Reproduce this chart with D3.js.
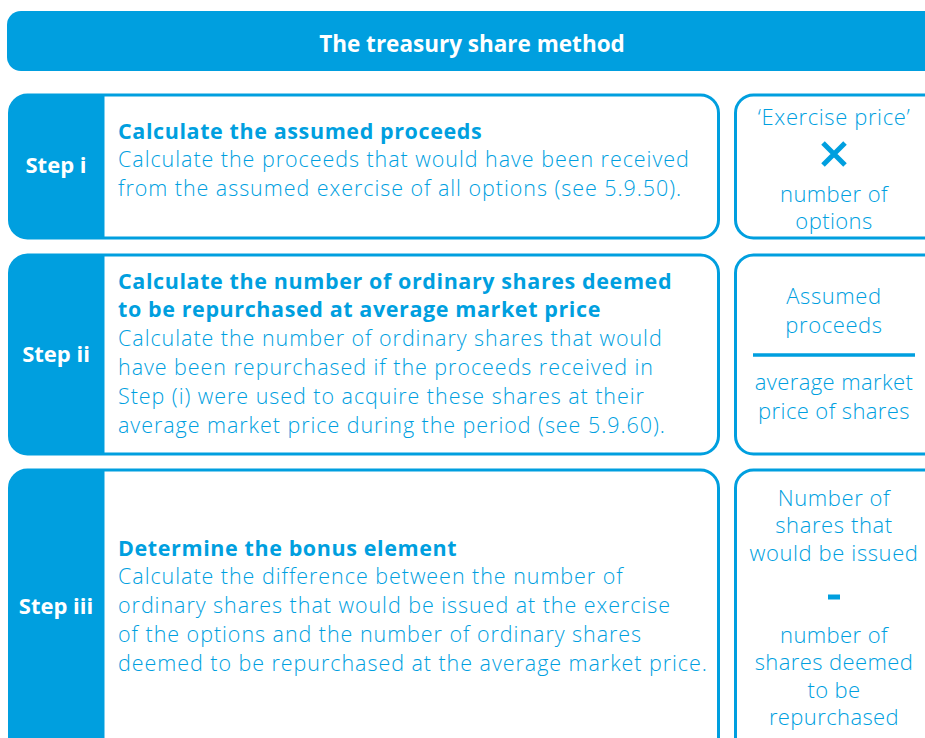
<!DOCTYPE html>
<html>
<head>
<meta charset="utf-8">
<script src="https://cdn.jsdelivr.net/npm/d3@7"></script>
<style>
  body { margin: 0; background: #fff; overflow: hidden; }
  svg { display: block; }
</style>
</head>
<body>
<div id="chart"></div>
<script>
// content
var title = "The treasury share method";
var stepLabels = ["Step i", "Step ii", "Step iii"];
var stepTitles = [
  ["Calculate the assumed proceeds"],
  ["Calculate the number of ordinary shares deemed", "to be repurchased at average market price"],
  ["Determine the bonus element"]
];
var stepBodies = [
  ["Calculate the proceeds that would have been received",
   "from the assumed exercise of all options (see 5.9.50)."],
  ["Calculate the number of ordinary shares that would",
   "have been repurchased if the proceeds received in",
   "Step (i) were used to acquire these shares at their",
   "average market price during the period (see 5.9.60)."],
  ["Calculate the difference between the number of",
   "ordinary shares that would be issued at the exercise",
   "of the options and the number of ordinary shares",
   "deemed to be repurchased at the average market price."]
];
var formulaTop = [["\u2018Exercise price\u2019"], ["Assumed", "proceeds"], ["Number of", "shares that", "would be issued"]];
var formulaOps = ["times", "divide", "minus"];
var formulaBottom = [["number of", "options"], ["average market", "price of shares"], ["number of", "shares deemed", "to be", "repurchased"]];

// layout
var W = 925, H = 738;
var blue = "#009FDF";
var rowTop = [95, 255, 470];
var rowBottom = [238, 454, 760];
var labelY = [165, 354, 606];
var textY = [131, 281, 548];
var lineH = 28.8;

var svg = d3.select("#chart").append("svg").attr("width", W).attr("height", H);

// header
svg.append("rect").attr("x", 7).attr("y", 11).attr("width", 960).attr("height", 60)
  .attr("rx", 14).attr("fill", blue);
svg.append("text").attr("x", 472).attr("y", 51.5)
  .attr("text-anchor", "middle").attr("fill", "#fff")
  .style("font-family", "'Open Sans', sans-serif")
  .style("font-weight", 700).style("font-size", "22.5px")
  .text(title);

var bodyFont = "'Open Sans', sans-serif";

var rows = svg.selectAll("g.row").data(stepLabels).enter().append("g").attr("class", "row");

rows.each(function (label, i) {
  var g = d3.select(this);
  var y0 = rowTop[i], y1 = rowBottom[i], h = y1 - y0;
  var clipId = "clip" + i;
  g.append("clipPath").attr("id", clipId).append("rect")
    .attr("x", 9.5).attr("y", y0).attr("width", 709).attr("height", h).attr("rx", 18);
  g.append("rect").attr("x", 9.5).attr("y", y0).attr("width", 709).attr("height", h)
    .attr("rx", 18).attr("fill", "#fff");
  g.append("rect").attr("x", 9.5).attr("y", y0).attr("width", 95).attr("height", h)
    .attr("fill", blue).attr("clip-path", "url(#" + clipId + ")");
  g.append("rect").attr("x", 9.5).attr("y", y0).attr("width", 709).attr("height", h)
    .attr("rx", 18).attr("fill", "none").attr("stroke", blue).attr("stroke-width", 3);

  g.append("text").attr("x", 56).attr("y", labelY[i] + 8).attr("text-anchor", "middle")
    .attr("fill", "#fff").style("font-family", bodyFont).style("font-weight", 700)
    .style("font-size", "22px").text(label);

  var lines = stepTitles[i].map(function (t) { return {t: t, b: true}; })
    .concat(stepBodies[i].map(function (t) { return {t: t, b: false}; }));
  g.selectAll("text.body").data(lines).enter().append("text").attr("class", "body")
    .attr("x", 118).attr("y", function (d, k) { return textY[i] + 7.5 + k * lineH; })
    .attr("fill", blue).style("font-family", bodyFont)
    .style("font-weight", function (d) { return d.b ? 700 : 300; })
    .style("font-size", "21.5px")
    .style("letter-spacing", function (d) { return d.b ? "0.6px" : "0.95px"; })
    .text(function (d) { return d.t; });

  // formula box
  g.append("rect").attr("x", 735.5).attr("y", y0).attr("width", 220).attr("height", h)
    .attr("rx", 18).attr("fill", "#fff").attr("stroke", blue).attr("stroke-width", 3);
});

// formula contents
var cx = 834;
var fTopY = [117, 296, 498];
var fOpY = [154, 355, 597];
var fBotY = [194, 382, 635];
var fLineH = [27.5, 29, 27.5];

function block(g, arr, y, lh, ls) {
  g.append("text").attr("text-anchor", "middle").attr("fill", blue)
    .style("letter-spacing", ls).style("font-family", bodyFont)
    .style("font-weight", 300).style("font-size", "22px")
    .selectAll("tspan").data(arr).enter().append("tspan")
    .attr("x", cx).attr("y", function (d, k) { return y + 7.5 + k * lh; })
    .text(function (d) { return d; });
}

rows.each(function (label, i) {
  var g = d3.select(this);
  block(g, formulaTop[i], fTopY[i], fLineH[i], "0.6px");
  block(g, formulaBottom[i], fBotY[i], fLineH[i], "0.4px");

  var op = formulaOps[i], oy = fOpY[i];
  if (op === "times") {
    g.append("path").attr("d", "M" + (cx - 11) + "," + (oy - 11) + "L" + (cx + 11) + "," + (oy + 11) +
      "M" + (cx + 11) + "," + (oy - 11) + "L" + (cx - 11) + "," + (oy + 11))
      .attr("stroke", blue).attr("stroke-width", 5);
  } else if (op === "divide") {
    g.append("line").attr("x1", 753).attr("x2", 915).attr("y1", oy).attr("y2", oy)
      .attr("stroke", blue).attr("stroke-width", 3.5);
  } else {
    g.append("rect").attr("x", cx - 6).attr("y", oy - 2.5).attr("width", 12).attr("height", 5)
      .attr("fill", blue);
  }
});
</script>
</body>
</html>
